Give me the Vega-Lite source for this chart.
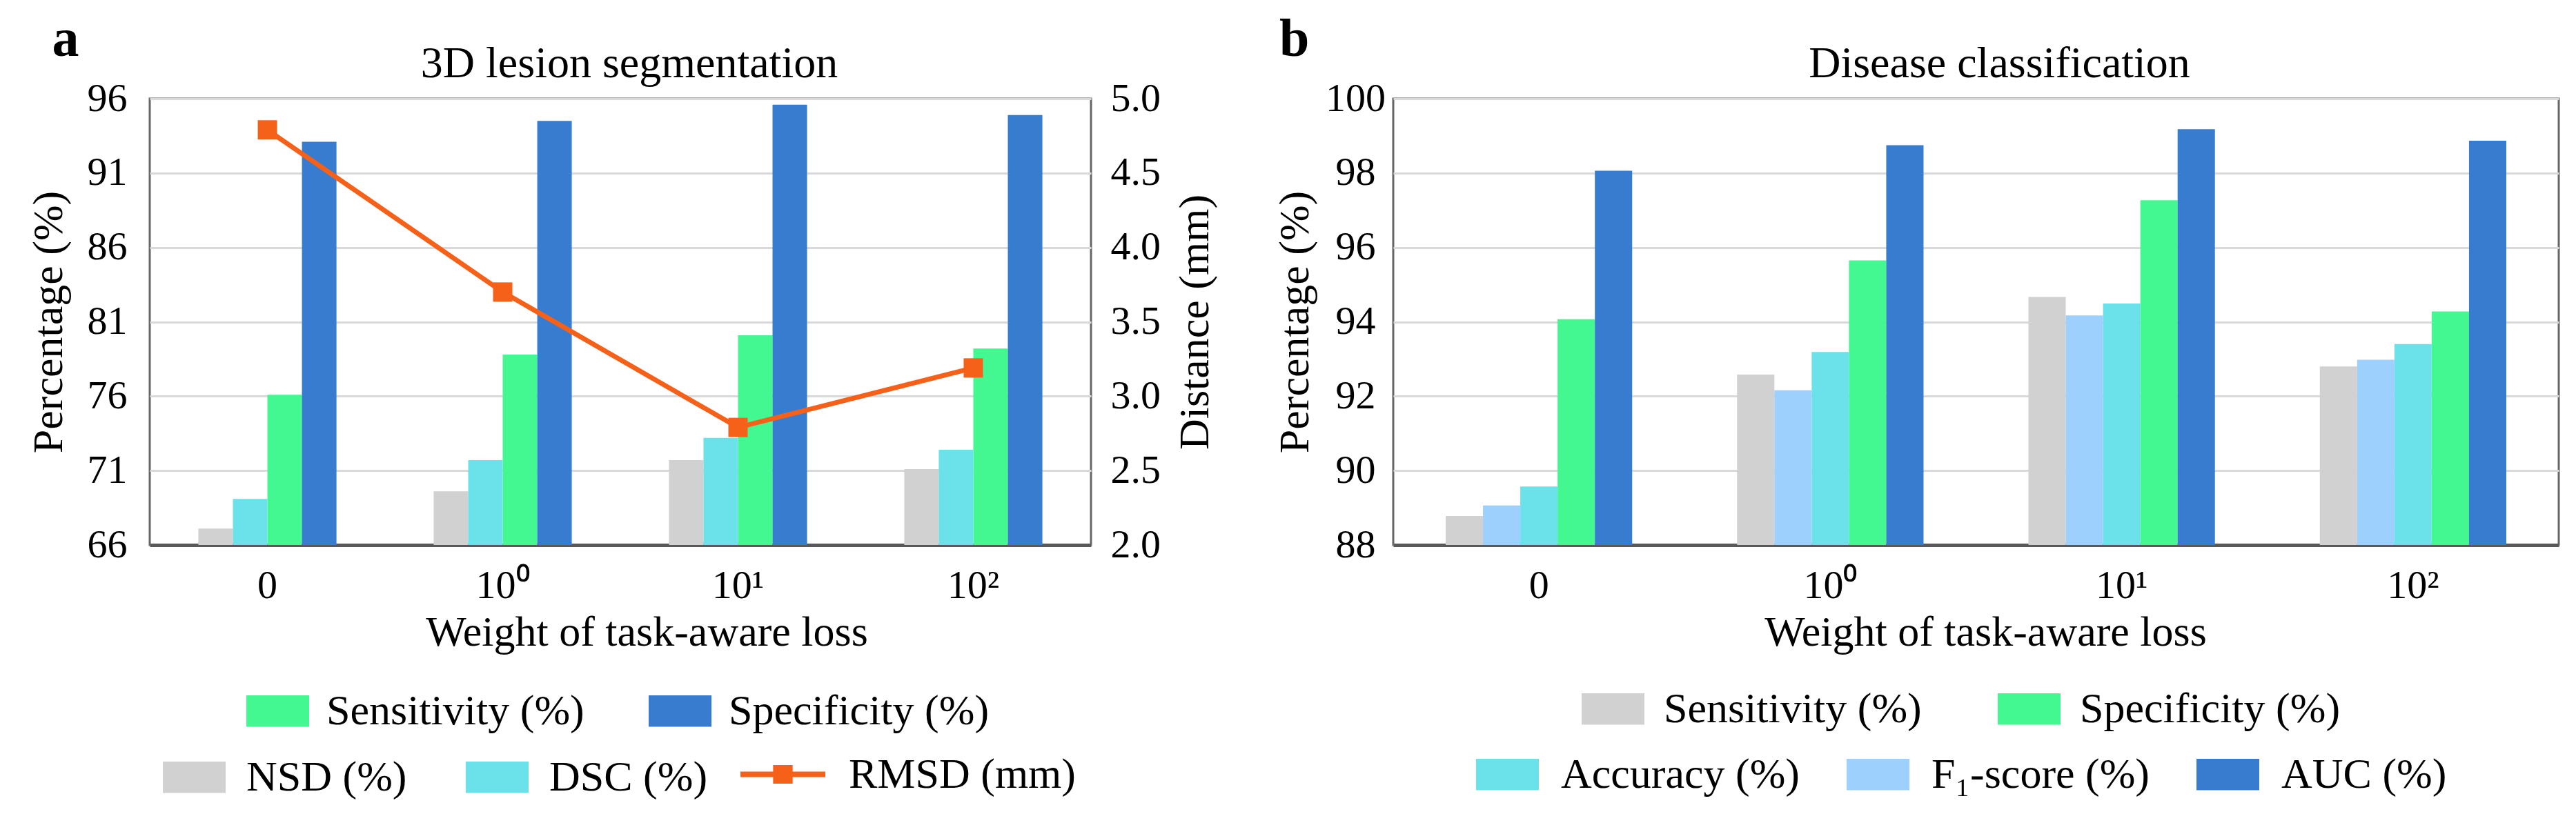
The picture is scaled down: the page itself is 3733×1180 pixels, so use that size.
{
  "$schema": "https://vega.github.io/schema/vega-lite/v6.json",
  "background": "white",
  "padding": {"left": 37, "top": 18, "right": 5, "bottom": 0},
  "spacing": 80,
  "config": {
    "font": "Liberation Serif",
    "view": {"stroke": "#666666", "strokeWidth": 3},
    "axis": {"labelFont": "Liberation Serif", "titleFont": "Liberation Serif", "labelFontSize": 58, "titleFontSize": 62, "labelColor": "#000000", "titleColor": "#000000", "titleFontWeight": "normal", "ticks": false, "domain": false, "grid": false},
    "legend": {"labelFont": "Liberation Serif", "labelFontSize": 62, "labelColor": "#000000", "labelLimit": 2000, "padding": 0, "symbolStrokeWidth": 0, "symbolOpacity": 1},
    "title": {"font": "Liberation Serif", "color": "#000000"}
  },
  "datasets": {
    "seg": [
      {"weight": "0", "metric": "NSD (%)", "value": 67.1},
      {"weight": "0", "metric": "DSC (%)", "value": 69.1},
      {"weight": "0", "metric": "Sensitivity (%)", "value": 76.1},
      {"weight": "0", "metric": "Specificity (%)", "value": 93.1},
      {"weight": "10⁰", "metric": "NSD (%)", "value": 69.6},
      {"weight": "10⁰", "metric": "DSC (%)", "value": 71.7},
      {"weight": "10⁰", "metric": "Sensitivity (%)", "value": 78.8},
      {"weight": "10⁰", "metric": "Specificity (%)", "value": 94.5},
      {"weight": "10¹", "metric": "NSD (%)", "value": 71.7},
      {"weight": "10¹", "metric": "DSC (%)", "value": 73.2},
      {"weight": "10¹", "metric": "Sensitivity (%)", "value": 80.1},
      {"weight": "10¹", "metric": "Specificity (%)", "value": 95.6},
      {"weight": "10²", "metric": "NSD (%)", "value": 71.1},
      {"weight": "10²", "metric": "DSC (%)", "value": 72.4},
      {"weight": "10²", "metric": "Sensitivity (%)", "value": 79.2},
      {"weight": "10²", "metric": "Specificity (%)", "value": 94.9}
    ],
    "rmsd": [
      {"weight": "0", "metric": "RMSD (mm)", "value": 4.79},
      {"weight": "10⁰", "metric": "RMSD (mm)", "value": 3.70},
      {"weight": "10¹", "metric": "RMSD (mm)", "value": 2.79},
      {"weight": "10²", "metric": "RMSD (mm)", "value": 3.19}
    ],
    "cls": [
      {"weight": "0", "metric": "Sensitivity (%)", "value": 88.78},
      {"weight": "0", "metric": "F₁-score (%)", "value": 89.06},
      {"weight": "0", "metric": "Accuracy (%)", "value": 89.57},
      {"weight": "0", "metric": "Specificity (%)", "value": 94.07},
      {"weight": "0", "metric": "AUC (%)", "value": 98.06},
      {"weight": "10⁰", "metric": "Sensitivity (%)", "value": 92.58},
      {"weight": "10⁰", "metric": "F₁-score (%)", "value": 92.16},
      {"weight": "10⁰", "metric": "Accuracy (%)", "value": 93.19},
      {"weight": "10⁰", "metric": "Specificity (%)", "value": 95.65},
      {"weight": "10⁰", "metric": "AUC (%)", "value": 98.75},
      {"weight": "10¹", "metric": "Sensitivity (%)", "value": 94.67},
      {"weight": "10¹", "metric": "F₁-score (%)", "value": 94.17},
      {"weight": "10¹", "metric": "Accuracy (%)", "value": 94.49},
      {"weight": "10¹", "metric": "Specificity (%)", "value": 97.27},
      {"weight": "10¹", "metric": "AUC (%)", "value": 99.18},
      {"weight": "10²", "metric": "Sensitivity (%)", "value": 92.80},
      {"weight": "10²", "metric": "F₁-score (%)", "value": 92.98},
      {"weight": "10²", "metric": "Accuracy (%)", "value": 93.40},
      {"weight": "10²", "metric": "Specificity (%)", "value": 94.28},
      {"weight": "10²", "metric": "AUC (%)", "value": 98.87}
    ]
  },
  "hconcat": [
    {
      "title": {"text": "a", "anchor": "start", "fontSize": 78, "fontWeight": "bold", "offset": 0, "dx": 38, "dy": 37},
      "vconcat": [
        {
          "width": 1364,
          "height": 647,
          "title": {"text": "3D lesion segmentation", "fontSize": 64, "fontWeight": "normal", "anchor": "middle", "offset": -11, "dx": 13},
          "layer": [
            {
              "layer": [
                {
                  "data": {"name": "seg"},
                  "transform": [{"filter": {"field": "metric", "oneOf": ["Sensitivity (%)", "Specificity (%)"]}}],
                  "mark": {"type": "bar"},
                  "encoding": {
                    "x": {"field": "weight", "type": "nominal", "sort": null, "scale": {"domain": ["0", "10⁰", "10¹", "10²"], "paddingInner": 0.413, "paddingOuter": 0.2066}, "axis": {"title": "Weight of task-aware loss", "labelAngle": 0, "domain": true, "domainColor": "#595959", "domainWidth": 5, "labelPadding": 30, "titlePadding": 8, "titleX": 720}},
                    "xOffset": {"field": "metric", "type": "nominal", "scale": {"domain": ["NSD (%)", "DSC (%)", "Sensitivity (%)", "Specificity (%)"], "paddingInner": 0, "paddingOuter": 0}},
                    "y": {"field": "value", "type": "quantitative", "scale": {"domain": [66, 96], "nice": false, "zero": false}, "axis": {"title": "Percentage (%)", "values": [66, 71, 76, 81, 86, 91, 96], "grid": true, "gridColor": "#d9d9d9", "gridWidth": 3, "labelPadding": 33, "titlePadding": 24}},
                    "y2": {"datum": 66},
                    "color": {"field": "metric", "type": "nominal", "scale": {"domain": ["Sensitivity (%)", "Specificity (%)"], "range": ["#43F791", "#377CCE"]}, "legend": {"orient": "none", "legendX": 140, "legendY": 842, "direction": "horizontal", "title": null, "symbolType": "M-1,-0.5H1V0.5H-1Z", "symbolSize": 8281, "labelOffset": 25, "columnPadding": 93}}
                  }
                },
                {
                  "data": {"name": "seg"},
                  "transform": [{"filter": {"field": "metric", "oneOf": ["NSD (%)", "DSC (%)"]}}],
                  "mark": {"type": "bar"},
                  "encoding": {
                    "x": {"field": "weight", "type": "nominal", "sort": null, "scale": {"domain": ["0", "10⁰", "10¹", "10²"], "paddingInner": 0.413, "paddingOuter": 0.2066}, "axis": {"title": "Weight of task-aware loss", "labelAngle": 0, "domain": true, "domainColor": "#595959", "domainWidth": 5, "labelPadding": 30, "titlePadding": 8, "titleX": 720}},
                    "xOffset": {"field": "metric", "type": "nominal", "scale": {"domain": ["NSD (%)", "DSC (%)", "Sensitivity (%)", "Specificity (%)"], "paddingInner": 0, "paddingOuter": 0}},
                    "y": {"field": "value", "type": "quantitative", "scale": {"domain": [66, 96], "nice": false, "zero": false}, "axis": {"title": "Percentage (%)", "values": [66, 71, 76, 81, 86, 91, 96], "grid": true, "gridColor": "#d9d9d9", "gridWidth": 3, "labelPadding": 33, "titlePadding": 24}},
                    "y2": {"datum": 66},
                    "color": {"field": "metric", "type": "nominal", "scale": {"domain": ["NSD (%)", "DSC (%)"], "range": ["#D1D1D1", "#6BE2EA"]}, "legend": {"orient": "none", "legendX": 19, "legendY": 938, "direction": "horizontal", "title": null, "symbolType": "M-1,-0.5H1V0.5H-1Z", "symbolSize": 8281, "labelOffset": 30, "columnPadding": 85}}
                  }
                }
              ],
              "resolve": {"scale": {"color": "independent", "xOffset": "independent"}}
            },
            {
              "layer": [
                {
                  "data": {"name": "rmsd"},
                  "mark": {"type": "line", "color": "#F6611A", "strokeWidth": 7},
                  "encoding": {
                    "x": {"field": "weight", "type": "nominal", "sort": null, "scale": {"domain": ["0", "10⁰", "10¹", "10²"], "paddingInner": 0.413, "paddingOuter": 0.2066}, "axis": {"title": "Weight of task-aware loss", "labelAngle": 0, "domain": true, "domainColor": "#595959", "domainWidth": 5, "labelPadding": 30, "titlePadding": 8, "titleX": 720}},
                    "y": {"field": "value", "type": "quantitative", "scale": {"domain": [2, 5], "nice": false, "zero": false}, "axis": {"orient": "right", "title": "Distance (mm)", "titleAngle": -90, "titleBaseline": "top", "values": [2, 2.5, 3, 3.5, 4, 4.5, 5], "format": ".1f", "labelPadding": 28, "titlePadding": 20}}
                  }
                },
                {
                  "data": {"name": "rmsd"},
                  "mark": {"type": "point", "shape": "square", "filled": true, "size": 784, "opacity": 1},
                  "encoding": {
                    "x": {"field": "weight", "type": "nominal", "sort": null, "scale": {"domain": ["0", "10⁰", "10¹", "10²"], "paddingInner": 0.413, "paddingOuter": 0.2066}, "axis": {"title": "Weight of task-aware loss", "labelAngle": 0, "domain": true, "domainColor": "#595959", "domainWidth": 5, "labelPadding": 30, "titlePadding": 8, "titleX": 720}},
                    "y": {"field": "value", "type": "quantitative", "scale": {"domain": [2, 5], "nice": false, "zero": false}, "axis": {"orient": "right", "title": "Distance (mm)", "titleAngle": -90, "titleBaseline": "top", "values": [2, 2.5, 3, 3.5, 4, 4.5, 5], "format": ".1f", "labelPadding": 28, "titlePadding": 20}},
                    "color": {"field": "metric", "type": "nominal", "scale": {"domain": ["RMSD (mm)"], "range": ["#F6611A"]}, "legend": {"orient": "none", "legendX": 856, "legendY": 918, "title": null, "symbolType": "M-1,-0.065H1V0.065H-1Z M-0.23,-0.22H0.23V0.22H-0.23Z", "symbolSize": 15129, "labelOffset": 34}}
                  }
                }
              ]
            }
          ],
          "resolve": {"scale": {"y": "independent", "color": "independent"}, "axis": {"y": "independent"}}
        }
      ]
    },
    {
      "title": {"text": "b", "anchor": "start", "fontSize": 78, "fontWeight": "bold", "offset": 0, "dx": 10, "dy": 37},
      "vconcat": [
        {
          "width": 1689,
          "height": 647,
          "title": {"text": "Disease classification", "fontSize": 64, "fontWeight": "normal", "anchor": "middle", "offset": -11, "dx": 34},
          "layer": [
            {
              "data": {"name": "cls"},
              "transform": [{"filter": {"field": "metric", "oneOf": ["Sensitivity (%)", "Specificity (%)"]}}],
              "mark": {"type": "bar"},
              "encoding": {
                "x": {"field": "weight", "type": "nominal", "sort": null, "scale": {"domain": ["0", "10⁰", "10¹", "10²"], "paddingInner": 0.36, "paddingOuter": 0.18}, "axis": {"title": "Weight of task-aware loss", "labelAngle": 0, "domain": true, "domainColor": "#595959", "domainWidth": 5, "labelPadding": 30, "titlePadding": 8, "titleX": 858}},
                "xOffset": {"field": "metric", "type": "nominal", "scale": {"domain": ["Sensitivity (%)", "F₁-score (%)", "Accuracy (%)", "Specificity (%)", "AUC (%)"], "paddingInner": 0, "paddingOuter": 0}},
                "y": {"field": "value", "type": "quantitative", "scale": {"domain": [88, 100], "nice": false, "zero": false}, "axis": {"title": "Percentage (%)", "values": [88, 90, 92, 94, 96, 98, 100], "grid": true, "gridColor": "#d9d9d9", "gridWidth": 3, "labelAlign": "center", "labelPadding": 55, "titlePadding": 12}},
                "y2": {"datum": 88},
                "color": {"field": "metric", "type": "nominal", "scale": {"domain": ["Sensitivity (%)", "Specificity (%)"], "range": ["#D1D1D1", "#43F791"]}, "legend": {"orient": "none", "legendX": 273, "legendY": 839, "direction": "horizontal", "title": null, "symbolType": "M-1,-0.5H1V0.5H-1Z", "symbolSize": 8281, "labelOffset": 28, "columnPadding": 110}}
              }
            },
            {
              "data": {"name": "cls"},
              "transform": [{"filter": {"field": "metric", "oneOf": ["Accuracy (%)", "F₁-score (%)", "AUC (%)"]}}],
              "mark": {"type": "bar"},
              "encoding": {
                "x": {"field": "weight", "type": "nominal", "sort": null, "scale": {"domain": ["0", "10⁰", "10¹", "10²"], "paddingInner": 0.36, "paddingOuter": 0.18}, "axis": {"title": "Weight of task-aware loss", "labelAngle": 0, "domain": true, "domainColor": "#595959", "domainWidth": 5, "labelPadding": 30, "titlePadding": 8, "titleX": 858}},
                "xOffset": {"field": "metric", "type": "nominal", "scale": {"domain": ["Sensitivity (%)", "F₁-score (%)", "Accuracy (%)", "Specificity (%)", "AUC (%)"], "paddingInner": 0, "paddingOuter": 0}},
                "y": {"field": "value", "type": "quantitative", "scale": {"domain": [88, 100], "nice": false, "zero": false}, "axis": {"title": "Percentage (%)", "values": [88, 90, 92, 94, 96, 98, 100], "grid": true, "gridColor": "#d9d9d9", "gridWidth": 3, "labelAlign": "center", "labelPadding": 55, "titlePadding": 12}},
                "y2": {"datum": 88},
                "color": {"field": "metric", "type": "nominal", "scale": {"domain": ["Accuracy (%)", "F₁-score (%)", "AUC (%)"], "range": ["#6BE2EA", "#9DD0FD", "#377CCE"]}, "legend": {"orient": "none", "legendX": 120, "legendY": 934, "direction": "horizontal", "title": null, "symbolType": "M-1,-0.5H1V0.5H-1Z", "symbolSize": 8281, "labelOffset": 32, "columnPadding": 68}}
              }
            }
          ],
          "resolve": {"scale": {"color": "independent", "xOffset": "independent"}}
        }
      ]
    }
  ]
}
